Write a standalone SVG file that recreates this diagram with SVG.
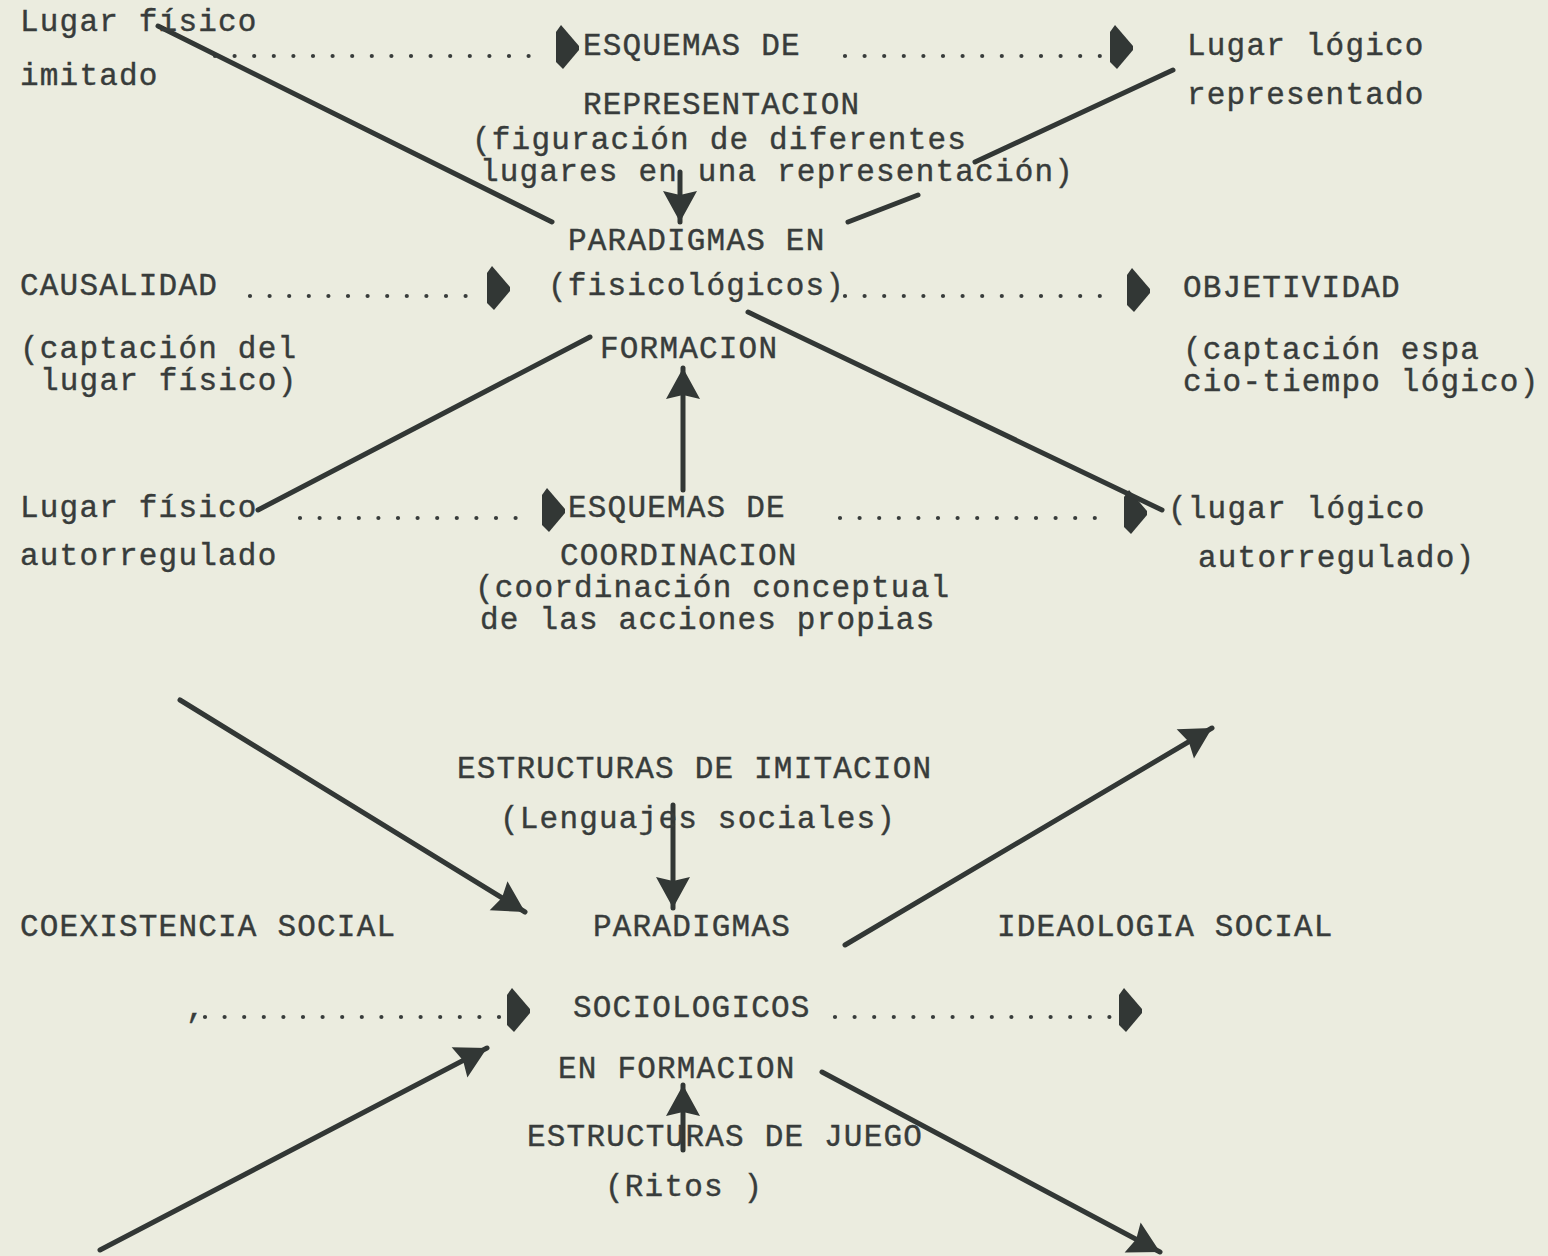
<svg xmlns="http://www.w3.org/2000/svg" xmlns:xlink="http://www.w3.org/1999/xlink" width="1548" height="1256" viewBox="0 0 1548 1256">
<style>
text{font-family:"Liberation Mono","DejaVu Sans Mono",monospace;font-size:31px;letter-spacing:1.2px;fill:#383c3b;stroke:#383c3b;stroke-width:0.4px}
.dots{fill:none;stroke:#383c3b;stroke-width:4.2;stroke-linecap:round;stroke-dasharray:0 19.6}
.thick{fill:none;stroke:#323735;stroke-width:5;stroke-linecap:round}
.head{fill:#323735}
</style>
<defs>
<path id="dh" d="M0,-15 L5,-22 L23,-1 L23,3 L7,22 L0,15 Z"/>
<marker id="big" markerUnits="userSpaceOnUse" markerWidth="44" markerHeight="44" viewBox="-34 -22 44 44" refX="0" refY="0" orient="auto">
<path class="head" d="M0,0 L-31,-17 L-27,0 L-31,17 Z"/>
</marker>
</defs>
<rect width="1548" height="1256" fill="#ebecdf"/>

<g id="connectors">
<g id="dotted">
<path class="dots" d="M215,56 H548"/><use xlink:href="#dh" x="556" y="47" class="head"/>
<path class="dots" d="M845,56 H1100"/><use xlink:href="#dh" x="1110" y="47" class="head"/>
<path class="dots" d="M250,296 H475"/><use xlink:href="#dh" x="487" y="288" class="head"/>
<path class="dots" d="M845,296 H1118"/><use xlink:href="#dh" x="1127" y="290" class="head"/>
<path class="dots" d="M300,518 H535"/><use xlink:href="#dh" x="542" y="510" class="head"/>
<path class="dots" d="M840,518 H1110"/><use xlink:href="#dh" x="1124" y="512" class="head"/>
<path class="dots" d="M205,1017 H500"/><use xlink:href="#dh" x="507" y="1010" class="head"/>
<path class="dots" d="M835,1017 H1112"/><use xlink:href="#dh" x="1119" y="1010" class="head"/>
</g>
<g id="solid">
<path class="thick" d="M158,26 L552,222"/>
<path class="thick" d="M1173,70 L975,162"/>
<path class="thick" d="M918,195 L848,222"/>
<path class="thick" d="M680,172 L680,222" marker-end="url(#big)"/>
<path class="thick" d="M590,337 L258,510"/>
<path class="thick" d="M683,490 L683,368" marker-end="url(#big)"/>
<path class="thick" d="M748,312 L1162,510"/>
<path class="thick" d="M180,700 L525,912" marker-end="url(#big)"/>
<path class="thick" d="M673,805 L673,908" marker-end="url(#big)"/>
<path class="thick" d="M845,945 L1212,728" marker-end="url(#big)"/>
<path class="thick" d="M100,1250 L487,1048" marker-end="url(#big)"/>
<path class="thick" d="M683,1150 L683,1085" marker-end="url(#big)"/>
<path class="thick" d="M822,1072 L1160,1252" marker-end="url(#big)"/>
</g>
</g>

<g id="lugar-fisico-imitado"><text x="20" y="31">Lugar físico</text><text x="20" y="85">imitado</text></g>
<g id="esquemas-representacion"><text x="583" y="55">ESQUEMAS DE</text><text x="583" y="114">REPRESENTACION</text><text x="472" y="149">(figuración de diferentes</text><text x="480" y="181">lugares en una representación)</text></g>
<g id="lugar-logico-representado"><text x="1187" y="55">Lugar lógico</text><text x="1187" y="104">representado</text></g>
<g id="paradigmas-fisicologicos"><text x="568" y="250">PARADIGMAS EN</text><text x="548" y="295">(fisicológicos)</text><text x="600" y="358">FORMACION</text></g>
<g id="causalidad"><text x="20" y="295">CAUSALIDAD</text><text x="20" y="358">(captación del</text><text x="40" y="390">lugar físico)</text></g>
<g id="objetividad"><text x="1183" y="297">OBJETIVIDAD</text><text x="1183" y="359">(captación espa</text><text x="1183" y="391">cio-tiempo lógico)</text></g>
<g id="lugar-fisico-autorregulado"><text x="20" y="517">Lugar físico</text><text x="20" y="565">autorregulado</text></g>
<g id="esquemas-coordinacion"><text x="568" y="517">ESQUEMAS DE</text><text x="560" y="565">COORDINACION</text><text x="475" y="597">(coordinación conceptual</text><text x="480" y="629">de las acciones propias</text></g>
<g id="lugar-logico-autorregulado"><text x="1168" y="518">(lugar lógico</text><text x="1198" y="567">autorregulado)</text></g>
<g id="estructuras-imitacion"><text x="457" y="778">ESTRUCTURAS DE IMITACION</text><text x="500" y="828">(Lenguajes sociales)</text></g>
<g id="coexistencia"><text x="20" y="936">COEXISTENCIA SOCIAL</text><text x="186" y="1017">,</text></g>
<g id="paradigmas-sociologicos"><text x="593" y="936">PARADIGMAS</text><text x="573" y="1017">SOCIOLOGICOS</text><text x="558" y="1078">EN FORMACION</text></g>
<g id="ideologia"><text x="997" y="936">IDEAOLOGIA SOCIAL</text></g>
<g id="estructuras-juego"><text x="527" y="1146">ESTRUCTURAS DE JUEGO</text><text x="605" y="1196">(Ritos )</text></g>
</svg>
